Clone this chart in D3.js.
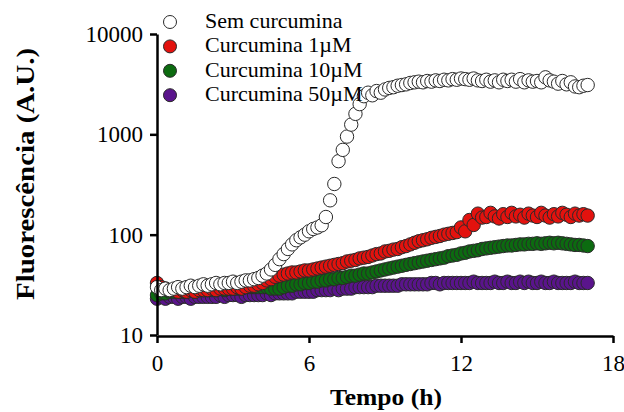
<!DOCTYPE html>
<html>
<head>
<meta charset="utf-8">
<script src="https://cdn.jsdelivr.net/npm/d3@7"></script>
<style>
  body { margin: 0; background: #fff; }
  text { font-family: "Liberation Serif", "Times New Roman", serif; }
</style>
</head>
<body>
<div id="chart"></div>
<script>
// sampling every 10 minutes, 0 .. 17 h
var stepHours = 10 / 60;

var semCurcumina = [
  30, 28, 29, 28, 29, 30,
  29, 30, 31, 30, 31, 32,
  31, 32, 33, 32, 33, 33,
  34, 33, 34, 35, 35, 36,
  37, 39, 41, 45, 50, 57,
  64, 72, 80, 88, 94, 100,
  108, 114, 118, 124, 150, 220,
  320, 540, 700, 950, 1250, 1600,
  2000, 2400, 2600, 2450, 2700, 2600,
  2800, 2900, 2950, 3050, 3100, 3150,
  3250, 3300, 3350, 3300, 3400, 3350,
  3450, 3400, 3500, 3450, 3550, 3500,
  3600, 3550, 3500, 3600, 3450, 3400,
  3500, 3350, 3450, 3300, 3500, 3400,
  3500, 3350, 3550, 3300, 3450, 3350,
  3400, 3300, 3700, 3450, 3350, 3200,
  3400, 3150, 3300, 3000, 2950, 3050,
  3100
];

var curcumina1 = [
  33, 30, 29, 28, 28, 27,
  28, 27, 28, 27, 28, 28,
  28, 29, 28, 29, 29, 29,
  29, 30, 29, 30, 31, 31,
  32, 33, 35, 36, 38, 39,
  40, 41, 42, 42, 43, 44,
  44, 45, 46, 47, 48, 49,
  50, 51, 52, 54, 55, 56,
  58, 59, 60, 62, 64, 65,
  68, 69, 71, 72, 75, 77,
  80, 83, 86, 88, 90, 93,
  95, 97, 100, 102, 104, 106,
  118, 108, 140, 125, 162, 148,
  150, 165, 152, 145, 160, 150,
  165, 152, 158, 148, 162, 155,
  150, 165, 155, 148, 160, 152,
  165, 158, 150, 162, 155, 160,
  155
];

var curcumina10 = [
  25, 26, 26, 27, 27, 27,
  27, 27, 28, 27, 28, 28,
  28, 28, 28, 29, 28, 29,
  29, 29, 29, 30, 30, 30,
  30, 30, 30, 29, 29, 29,
  30, 31, 31, 32, 32, 33,
  33, 34, 34, 35, 35, 36,
  36, 37, 37, 38, 39, 39,
  40, 41, 41, 42, 43, 44,
  45, 46, 47, 48, 49, 50,
  51, 52, 53, 54, 55, 56,
  57, 58, 59, 61, 62, 63,
  65, 66, 68, 69, 70, 72,
  73, 74, 75, 76, 77, 78,
  78, 79, 80, 80, 81, 81,
  82, 81, 82, 83, 82, 83,
  82, 81, 80, 79, 79, 78,
  77
];

var curcumina50 = [
  23, 24, 23, 24, 24, 23,
  24, 24, 23, 24, 24, 24,
  24, 24, 24, 25, 24, 25,
  25, 25, 24, 25, 25, 25,
  25, 25, 26, 25, 26, 26,
  26, 26, 26, 27, 27, 27,
  27, 27, 28, 28, 28, 28,
  29, 28, 29, 29, 29, 30,
  30, 30, 30, 30, 31, 31,
  31, 31, 31, 31, 32, 32,
  32, 32, 32, 32, 32, 33,
  33, 32, 33, 33, 33, 33,
  33, 33, 33, 34, 33, 33,
  33, 33, 34, 33, 33, 34,
  33, 33, 34, 33, 34, 33,
  33, 34, 33, 33, 34, 33,
  33, 33, 33, 34, 33, 33,
  33
];

var seriesNames = ["Sem curcumina", "Curcumina 1\u00b5M", "Curcumina 10\u00b5M", "Curcumina 50\u00b5M"];
var seriesColors = ["#ffffff", "#e3120e", "#0c6b10", "#5a148c"];
var xTicks = [0, 6, 12, 18];
var yTicks = [10, 100, 1000, 10000];

function chart() {
  var w = 624;
  var h = 412;

  var svg = d3.select("#chart")
              .append("svg")
              .attr("width", w)
              .attr("height", h);

  var x = d3.scaleLinear()
            .domain([0, 18])
            .range([157, 613]);

  var y = d3.scaleLog()
            .domain([10, 10000])
            .range([335, 34]);

  var allSeries = [semCurcumina, curcumina1, curcumina10, curcumina50];

  // draw purple first, white last (on top)
  for (var s = allSeries.length - 1; s >= 0; s--) {
    svg.append("g")
       .selectAll("circle")
       .data(allSeries[s])
       .enter()
       .append("circle")
       .attr("cx", function(d, i) { return x(i * stepHours); })
       .attr("cy", function(d) { return y(d); })
       .attr("r", 6.7)
       .attr("fill", seriesColors[s])
       .attr("stroke", "#2a2a2a")
       .attr("stroke-width", 1);
  }

  // axes
  var xAxis = d3.axisBottom(x)
                .tickValues(xTicks)
                .tickSize(7)
                .tickSizeOuter(0)
                .tickPadding(12);

  var yAxis = d3.axisLeft(y)
                .tickValues(yTicks)
                .tickFormat(d3.format("d"))
                .tickSize(7)
                .tickSizeOuter(0)
                .tickPadding(7);

  svg.append("g")
     .attr("transform", "translate(0," + 336 + ")")
     .call(xAxis);

  svg.append("g")
     .attr("transform", "translate(" + 157 + ",0)")
     .call(yAxis);

  svg.selectAll(".domain, .tick line")
     .attr("stroke", "#000")
     .attr("stroke-width", 2.5);

  svg.selectAll(".tick text")
     .attr("fill", "#000")
     .style("font-family", "Liberation Serif, serif")
     .style("font-size", "23px");

  // axis titles
  svg.append("text")
     .attr("x", 386)
     .attr("y", 405)
     .attr("text-anchor", "middle")
     .attr("textLength", 112)
     .attr("lengthAdjust", "spacingAndGlyphs")
     .style("font-size", "23px")
     .style("font-weight", "bold")
     .text("Tempo (h)");

  svg.append("text")
     .attr("transform", "translate(34,174) rotate(-90)")
     .attr("text-anchor", "middle")
     .attr("textLength", 252)
     .attr("lengthAdjust", "spacingAndGlyphs")
     .style("font-size", "26px")
     .style("font-weight", "bold")
     .text("Fluoresc\u00eancia (A.U.)");

  // legend
  var legend = svg.append("g")
                  .selectAll("g")
                  .data(seriesNames)
                  .enter()
                  .append("g")
                  .attr("transform", function(d, i) { return "translate(170," + (22 + i * 24.4) + ")"; });

  legend.append("circle")
        .attr("r", 6.5)
        .attr("fill", function(d, i) { return seriesColors[i]; })
        .attr("stroke", "#2a2a2a")
        .attr("stroke-width", 1);

  legend.append("text")
        .attr("x", 35)
        .attr("y", 6)
        .style("font-size", "22px")
        .text(function(d) { return d; });
}

window.onload = function() {
  chart();
};
</script>
</body>
</html>
